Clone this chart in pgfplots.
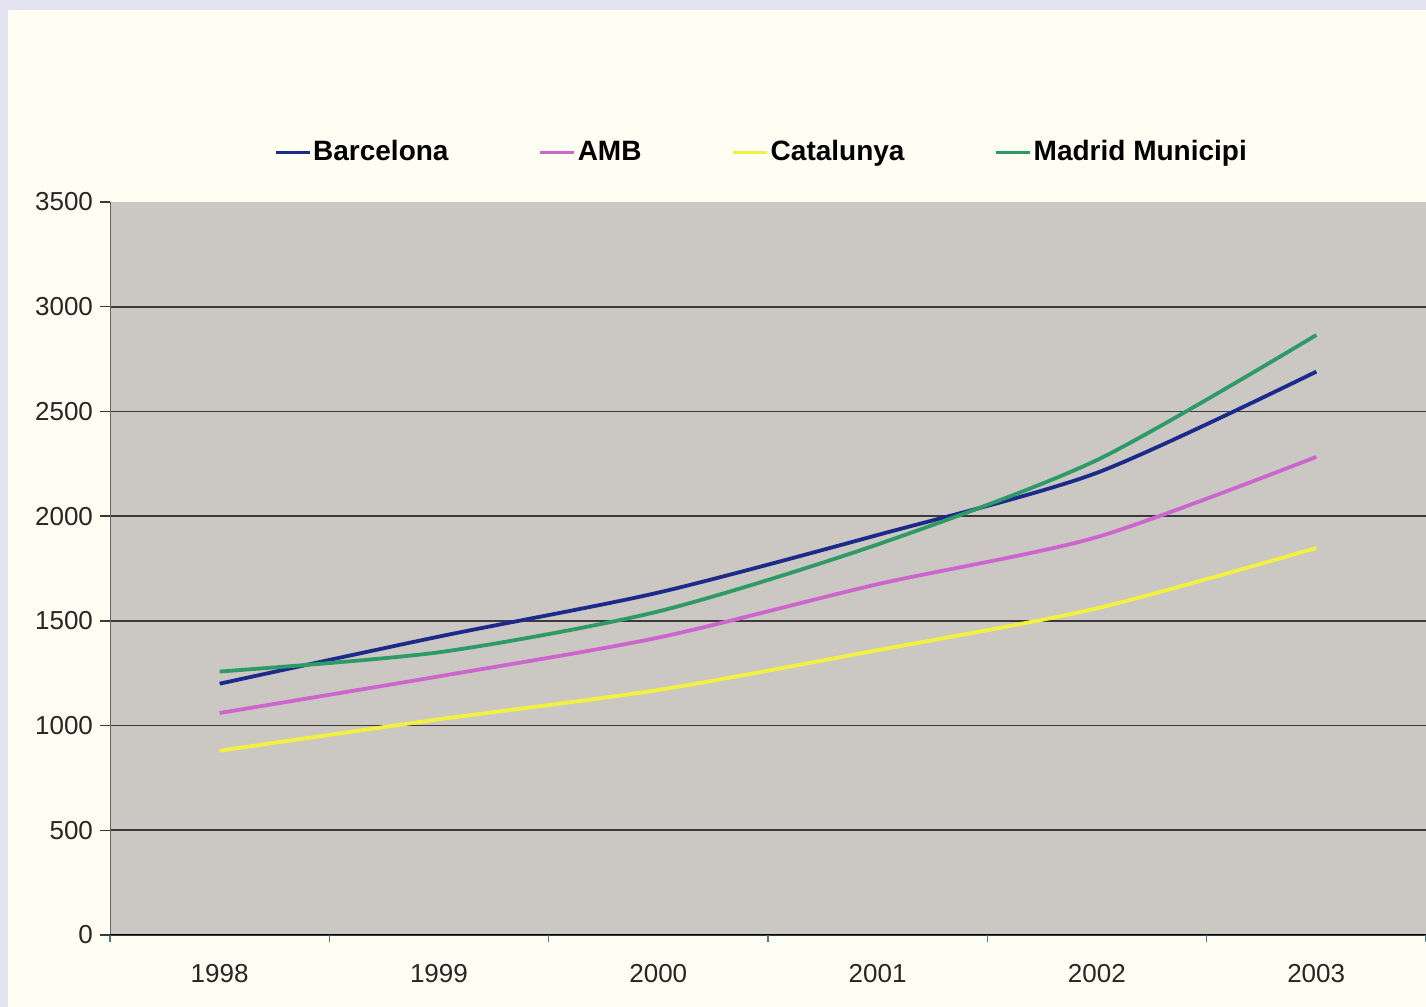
\documentclass[border=0pt]{standalone}
\usepackage{pgfplots}
\pgfplotsset{compat=1.18}
\usepackage{fontspec}
\setmainfont{Liberation Sans}
\definecolor{slidebg}{HTML}{E2E2F0}
\definecolor{ivory}{HTML}{FEFEF2}
\definecolor{plotgrey}{HTML}{CBC8C3}
\definecolor{gridc}{HTML}{3A3A3A}
\definecolor{cBarc}{HTML}{1C2A8A}
\definecolor{cAMB}{HTML}{CC66CC}
\definecolor{cCat}{HTML}{F2F040}
\definecolor{cMad}{HTML}{2E9A66}
\begin{document}
\begin{tikzpicture}
\clip (0,0) rectangle (713pt,503.5pt);
\fill[slidebg] (0,0) rectangle (713pt,503.5pt);
\fill[ivory] (4pt,0) rectangle (713pt,498.5pt);
\begin{axis}[
  at={(55pt,36pt)}, anchor=south west,
  scale only axis, width=658pt, height=366.5pt,
  xmin=1997.5, xmax=2003.5, ymin=0, ymax=3500,
  axis background/.style={fill=plotgrey},
  axis line style={draw=none},
  xtick={1998,...,2003},
  xticklabels={1998,1999,2000,2001,2002,2003},
  major x tick style={draw=none},
  minor xtick={1997.5,1998.5,...,2003.5},
  minor x tick style={draw=black!50!cyan, line width=0.6pt},
  minor tick length=3.5pt,
  ytick={0,500,...,3000},
  extra y ticks={3500},
  extra y tick style={grid=none},
  ymajorgrids,
  major grid style={draw=gridc, line width=0.9pt},
  tick align=outside,
  major tick length=5pt,
  ytick style={draw=gridc, line width=0.7pt},
  xtick pos=bottom, ytick pos=left,
  /pgf/number format/assume math mode=true,
  /pgf/number format/1000 sep={},
  tick label style={font=\fontsize{13}{15}\selectfont, text=black!85},
  xticklabel style={yshift=-6pt},
  legend columns=4,
  legend style={at={(0.495,1.068)}, anchor=center, draw=none, fill=none,
    font=\bfseries\fontsize{14}{16}\selectfont,
    nodes={inner sep=1pt},
    /tikz/every even column/.append style={column sep=44pt}},
  legend image code/.code={\draw[#1, line width=1.6pt] (0pt,0pt) -- (17pt,0pt);},
  every axis plot/.append style={line width=1.9pt, smooth, tension=0.45},
]
\draw[black!60, line width=0.8pt] (axis cs:1997.5,0) -- (axis cs:1997.5,3500);
\addplot[cBarc] coordinates {(1998,1200) (1999,1425) (2000,1635) (2001,1910) (2002,2207) (2003,2690)};
\addlegendentry{Barcelona}
\addplot[cAMB] coordinates {(1998,1060) (1999,1235) (2000,1420) (2001,1675) (2002,1900) (2003,2283)};
\addlegendentry{AMB}
\addplot[cCat] coordinates {(1998,880) (1999,1030) (2000,1170) (2001,1360) (2002,1560) (2003,1848)};
\addlegendentry{Catalunya}
\addplot[cMad] coordinates {(1998,1258) (1999,1350) (2000,1545) (2001,1865) (2002,2268) (2003,2865)};
\addlegendentry{Madrid Municipi}
\draw[black, line width=1pt] (axis cs:1997.5,0) -- (axis cs:2003.5,0);
\end{axis}
\end{tikzpicture}
\end{document}
